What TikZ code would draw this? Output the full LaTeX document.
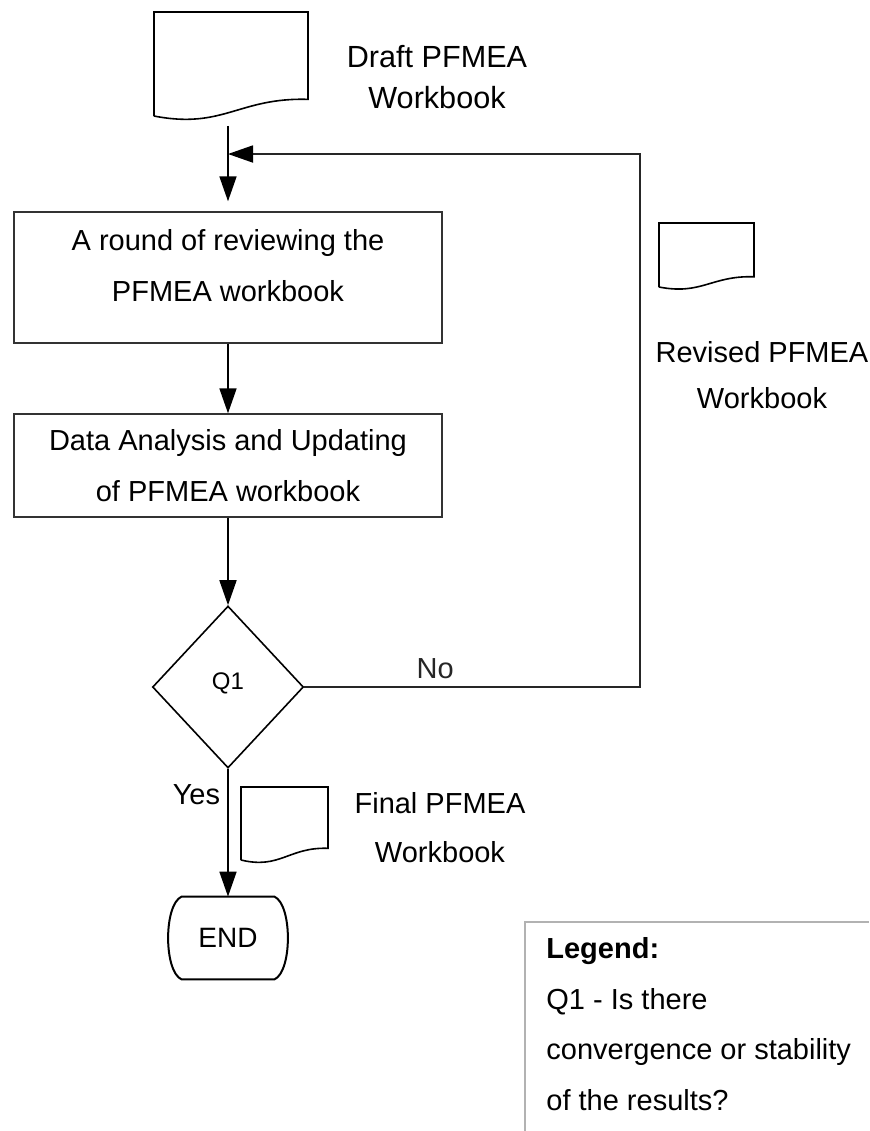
\documentclass[tikz,border=0pt]{standalone}
\usepackage{fontspec}
\setmainfont{Liberation Sans}
\usepackage{tikz}
\usetikzlibrary{arrows.meta,shapes.geometric}
\tikzset{>={Triangle[length=12.5pt,width=8.5pt]}}
\tikzset{
  procbox/.style={draw=black!80,line width=0.7pt,minimum width=214pt,inner sep=0pt},
  boxtext/.style={align=center,font=\fontsize{14.5}{25.5}\selectfont},
  decision/.style={diamond,draw,line width=0.8pt,minimum width=75.5pt,minimum height=81pt,inner sep=0pt,
    text height=8pt,text depth=6pt,font=\fontsize{12}{14}\selectfont},
  terminal/.style={minimum width=59pt,minimum height=41pt,inner sep=0pt,font=\fontsize{14}{16}\selectfont},
  termline/.style={line width=1pt},
  docline/.style={draw,line width=0.8pt},
  note/.style={align=center,inner sep=0pt},
  flowarrow/.style={->,line width=0.9pt},
  loopline/.style={-{Triangle[length=12.5pt,width=8.5pt,color=black]},line width=0.9pt,black!85},
  legendline/.style={black!30,line width=0.6pt}
}
% document sheet: name, left, top, width, height (in px units)
\newcommand{\pfdoc}[5]{%
  \node[inner sep=0pt,minimum width=#4*0.5pt,minimum height=#5*0.5pt,anchor=north west] (#1) at (#2,#3) {};
  \draw[docline] (#2,#3+#5) -- (#2,#3) -- (#2+#4,#3) -- (#2+#4,#3+0.84*#5)
    .. controls (#2+0.55*#4,#3+0.82*#5) and (#2+0.45*#4,#3+1.13*#5) .. (#2,#3+#5);
}

\begin{document}
\begin{tikzpicture}[x=0.5pt,y=-0.5pt]
\useasboundingbox (0,0) rectangle (869,1131);
    % documents
    \pfdoc{draft}{154}{12}{154}{104}
    \pfdoc{revised}{659}{223}{95}{64}
    \pfdoc{final}{241}{787}{87}{73}
    \node[note,anchor=north,font=\fontsize{15.3}{20.5}\selectfont] (drafttxt) at (437,45) {Draft PFMEA\\Workbook};
    \node[note,anchor=north,font=\fontsize{14.5}{23}\selectfont] (revisedtxt) at (762,341) {Revised PFMEA\\Workbook};
    \node[note,anchor=north,font=\fontsize{14.5}{24.5}\selectfont] (finaltxt) at (440,792) {Final PFMEA\\Workbook};
    % process
    \node[procbox,minimum height=65.5pt,label={[boxtext,yshift=6pt]center:{A round of reviewing the\\PFMEA workbook}}] (review) at (228,277.5) {};
    \node[procbox,boxtext,minimum height=51.5pt] (update) at (228,465.5) {Data Analysis and Updating\\of PFMEA workbook};
    \node[decision] (q1) at (228,687) {Q1};
    \node[terminal] (end) at (228,938) {END};
    \draw[termline] ([xshift=6.5pt]end.north west) -- ([xshift=-6.5pt]end.north east)
      .. controls ([xshift=2.5pt,yshift=-4pt]end.north east) and ([xshift=2.5pt,yshift=4pt]end.south east) .. ([xshift=-6.5pt]end.south east)
      -- ([xshift=6.5pt]end.south west)
      .. controls ([xshift=-2.5pt,yshift=4pt]end.south west) and ([xshift=-2.5pt,yshift=-4pt]end.north west) .. cycle;
    \coordinate (merge) at (228,154);
    \coordinate (looptop) at (640,154);
    \coordinate (loopbot) at (640,687);
    % connectors
    \draw[flowarrow,shorten <=4.5pt,shorten >=5pt] (draft.south -| review.north) -- (review.north);
    \draw[flowarrow] (review) -- (update);
    \draw[flowarrow] (update) -- (q1);
    \draw[flowarrow] (q1) -- node[pos=0.205,left,inner sep=3.5pt,font=\fontsize{14.5}{17}\selectfont] (yes) {Yes} (end);
    \draw[loopline] (q1.east) -- node[pos=0.39,above,inner sep=3.5pt,font=\fontsize{14.5}{17}\selectfont] (no) {No} (loopbot) -- (looptop) -- (merge);
    % legend
    \draw[legendline] (525,1131) -- (525,922) -- (869,922);
    \node[note,align=left,anchor=north west,font=\fontsize{14.5}{25.3}\selectfont] (legend) at (546,937)
      {\textbf{Legend:}\\Q1 - Is there\\convergence or stability\\of the results?};
\end{tikzpicture}
\end{document}
